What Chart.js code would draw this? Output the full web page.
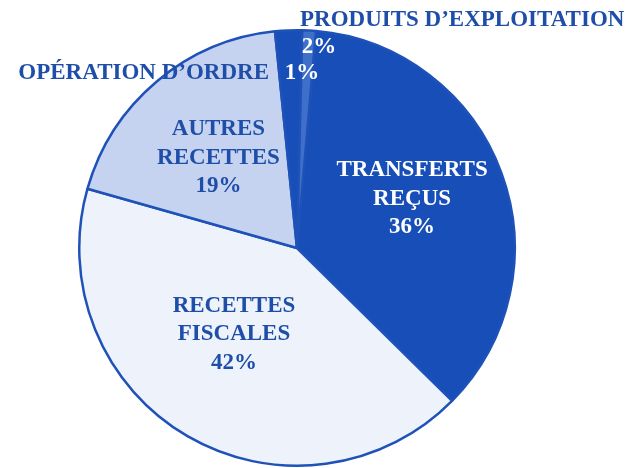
<!DOCTYPE html>
<html>
<head>
<meta charset="utf-8">
<script src="https://cdn.jsdelivr.net/npm/chart.js@4/dist/chart.umd.min.js"></script>
<style>
html,body{margin:0;padding:0;background:#ffffff;}
#wrap{width:637px;height:468px;position:relative;}
</style>
</head>
<body>
<div id="wrap"><canvas id="c" width="637" height="468"></canvas></div>
<script>
// Data
const categories = ["TRANSFERTS REÇUS", "RECETTES FISCALES", "AUTRES RECETTES", "PRODUITS D’EXPLOITATION", "OPÉRATION D’ORDRE"];
const shares = [36, 42, 19, 2, 1];
const labelLines = [
  ["TRANSFERTS", "REÇUS"],
  ["RECETTES", "FISCALES"],
  ["AUTRES", "RECETTES"],
  ["PRODUITS D’EXPLOITATION"],
  ["OPÉRATION D’ORDRE"]
];

// Styles
const sliceColors = ["#184eb8", "#eef2fb", "#c5d3f0", "#184eb8", "#3f70c9"];
const darkText = "#1e4ea8";
const FONT = "bold 23px 'Liberation Serif', 'DejaVu Serif', serif";

const labelPlugin = {
  id: 'sliceLabels',
  afterDatasetsDraw(chart) {
    const ctx = chart.ctx;
    const meta = chart.getDatasetMeta(0);
    ctx.save();
    ctx.font = FONT;
    ctx.textBaseline = 'middle';
    const pos = (arc, frac, degOff) => {
      const mid = (arc.startAngle + arc.endAngle) / 2 + degOff * Math.PI / 180;
      return {x: arc.x + Math.cos(mid) * frac * arc.outerRadius, y: arc.y + Math.sin(mid) * frac * arc.outerRadius};
    };
    const lh = 28.5;
    const inner = [[0, 0.575, -3, '#ffffff'], [1, 0.49, 6, darkText], [2, 0.55, -1, darkText]];
    inner.forEach(([i, frac, off, col]) => {
      const arc = meta.data[i];
      const p = pos(arc, frac, off);
      const lines = labelLines[i].concat([shares[i] + '%']);
      const top = p.y - (lines.length - 1) * lh / 2;
      ctx.fillStyle = col;
      ctx.textAlign = 'center';
      lines.forEach((t, k) => ctx.fillText(t, p.x, top + k * lh));
    });
    const a3 = meta.data[3], a4 = meta.data[4];
    const p3 = {x: a3.x + 22, y: a3.y - a3.outerRadius * 0.925};
    const p4 = {x: a4.x + 5, y: a4.y - a4.outerRadius * 0.805};
    ctx.fillStyle = '#ffffff';
    ctx.textAlign = 'center';
    ctx.fillText(shares[3] + '%', p3.x, p3.y);
    ctx.fillText(shares[4] + '%', p4.x, p4.y);
    ctx.fillStyle = darkText;
    ctx.textAlign = 'left';
    ctx.fillText(labelLines[3][0], p3.x - 19, p3.y - 27);
    ctx.textAlign = 'right';
    ctx.fillText(labelLines[4][0], p4.x - 33, p4.y);
    ctx.restore();
  }
};

new Chart(document.getElementById('c'), {
  type: 'pie',
  data: {
    labels: categories,
    datasets: [{
      data: shares,
      backgroundColor: sliceColors,
      borderColor: '#1f52b8',
      borderWidth: 2.5,
      borderAlign: 'center'
    }]
  },
  options: {
    responsive: false,
    animation: false,
    rotation: 5,
    layout: {padding: {left: 78, right: 121, top: 29, bottom: 1}},
    plugins: {legend: {display: false}, tooltip: {enabled: false}, title: {display: false}}
  },
  plugins: [labelPlugin]
});
</script>
</body>
</html>
